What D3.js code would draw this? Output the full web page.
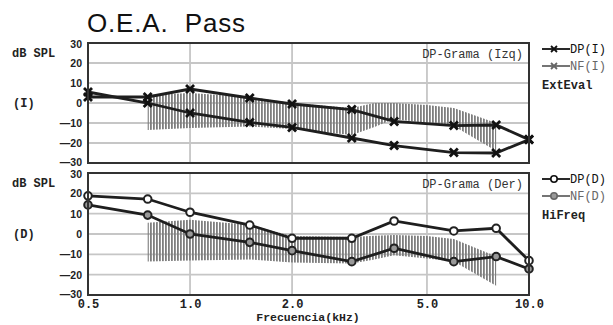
<!DOCTYPE html>
<html>
<head>
<meta charset="utf-8">
<script src="https://cdn.jsdelivr.net/npm/d3@7"></script>
<style>
  body { margin: 0; background: #fff; }
  svg { display: block; }
</style>
</head>
<body>
<svg id="chart" width="613" height="325"></svg>
<script>
// frequencies (kHz) of the DP-gram points
const freqs = [0.5, 0.75, 1, 1.5, 2, 3, 4, 6, 8, 10];

// left ear (Izq)
const dpLeft = [3, 3, 7, 2.5, -0.5, -3.3, -9.2, -11.3, -11, -18.3];
const nfLeft = [5.5, 0, -5, -9.7, -12.2, -17.5, -21.3, -24.8, -25, -18.3];

// right ear (Der)
const dpRight = [18.8, 17.2, 10.7, 4.4, -2.1, -2.1, 6.4, 1.5, 2.8, -13.1];
const nfRight = [14.3, 9.3, 0, -4.1, -8.2, -13.6, -7, -13.6, -11.1, -17.2];

// hatched normative band
const bandFreqs = [0.75, 1, 1.5, 2, 3, 3.5, 4, 5, 6, 8];
const bandHiLeft = [4, 5, 3, 0, -2.5, 0, 0, -1, -2.5, -10];
const bandLoLeft = [-13.5, -12.5, -11.7, -13, -16, -12, -8, -10, -11.5, -24];
const bandHiRight = [5.5, 7, 4.5, -1, -1.5, -0.8, -0.5, -1, -2.5, -11];
const bandLoRight = [-13.5, -13, -12.5, -14, -14.5, -12.5, -10.5, -12, -13.5, -25.5];

const yTicks = [30, 20, 10, 0, -10, -20, -30];
const xTicks = [0.5, 1, 2, 5, 10];

const svg = d3.select("#chart");
const mono = "'Liberation Mono', 'DejaVu Sans Mono', monospace";
const sans = "'Liberation Sans', Arial, sans-serif";

const x = d3.scaleLog().domain([0.5, 10]).range([88, 529]);

// hatch pattern
svg.append("defs").append("pattern")
  .attr("id", "hatch")
  .attr("patternUnits", "userSpaceOnUse")
  .attr("width", 3).attr("height", 10)
  .append("rect")
  .attr("width", 1.8).attr("height", 10)
  .attr("fill", "#7e7e7e");

// title
svg.append("text")
  .attr("x", 87).attr("y", 32)
  .attr("font-family", sans)
  .attr("font-size", 26)
  .attr("fill", "#111")
  .attr("textLength", 158)
  .attr("lengthAdjust", "spacing")
  .style("white-space", "pre")
  .text("O.E.A.  Pass");

function panel(opts) {
  const y = d3.scaleLinear().domain([-30, 30]).range([opts.bottom, opts.top]);
  const g = svg.append("g");

  // grid
  g.selectAll(".hg").data(yTicks.slice(1, -1)).enter().append("line")
    .attr("x1", x.range()[0]).attr("x2", x.range()[1])
    .attr("y1", d => y(d)).attr("y2", d => y(d))
    .attr("stroke", "#c6c6c6").attr("stroke-width", 1.8);
  g.selectAll(".vg").data(xTicks.slice(1, -1)).enter().append("line")
    .attr("x1", d => x(d)).attr("x2", d => x(d))
    .attr("y1", opts.top).attr("y2", opts.bottom)
    .attr("stroke", "#c6c6c6").attr("stroke-width", 1.8);

  // band
  const area = d3.area()
    .x((d, i) => x(bandFreqs[i]))
    .y0(d => y(d[0]))
    .y1(d => y(d[1]));
  g.append("path")
    .datum(opts.bandLo.map((lo, i) => [lo, opts.bandHi[i]]))
    .attr("d", area)
    .attr("fill", "url(#hatch)");

  // lines
  const line = d3.line().x((d, i) => x(freqs[i])).y(d => y(d));
  [opts.nf, opts.dp].forEach(vals => {
    g.append("path").datum(vals)
      .attr("d", line)
      .attr("fill", "none")
      .attr("stroke", "#1e1e1e")
      .attr("stroke-width", 2.8);
  });

  // markers
  [[opts.nf, "#999"], [opts.dp, "#fff"]].forEach(([vals, fill]) => {
    const m = g.selectAll(null).data(vals).enter().append("g")
      .attr("transform", (d, i) => `translate(${x(freqs[i])},${y(d)})`);
    if (opts.marker === "x") {
      m.append("path").attr("d", "M-4,-4L4,4M-4,4L4,-4")
        .attr("stroke", "#111").attr("stroke-width", 2.8);
    } else {
      m.append("circle").attr("r", 3.8)
        .attr("fill", fill).attr("stroke", "#222").attr("stroke-width", 2);
    }
  });

  // frame
  g.append("rect")
    .attr("x", x.range()[0]).attr("y", opts.top)
    .attr("width", x.range()[1] - x.range()[0])
    .attr("height", opts.bottom - opts.top)
    .attr("fill", "none").attr("stroke", "#333").attr("stroke-width", 2);

  // y axis
  const ax = g.append("g")
    .attr("transform", `translate(${x.range()[0]},0)`)
    .call(d3.axisLeft(y).tickValues(yTicks).tickSize(0).tickPadding(6)
      .tickFormat(d => d < 0 ? "\u2014" + Math.abs(d) : d));
  ax.select(".domain").remove();
  ax.selectAll("text")
    .attr("font-family", sans).attr("font-weight", "bold")
    .attr("font-size", 10.5).attr("fill", "#222")
    .attr("dy", d => d === 30 ? "0.42em" : d === -30 ? "0.22em" : "0.32em");

  // side labels
  g.append("text").attr("x", 12).attr("y", opts.top + 14)
    .attr("font-family", mono).attr("font-weight", "bold")
    .attr("font-size", 12).attr("fill", "#222")
    .text("dB SPL");
  g.append("text").attr("x", 13).attr("y", y(0) + 4)
    .attr("font-family", mono).attr("font-weight", "bold")
    .attr("font-size", 12).attr("fill", "#222")
    .text(opts.ear);

  // panel caption
  g.append("text").attr("x", 523).attr("y", opts.top + 15)
    .attr("text-anchor", "end")
    .attr("font-family", mono).attr("font-size", 12).attr("fill", "#333")
    .text(opts.caption);

  // legend
  const lg = g.append("g");
  opts.legend.forEach((name, i) => {
    const ly = opts.top + 6 + i * 17;
    const col = i === 0 ? "#111" : "#666";
    lg.append("line").attr("x1", 542).attr("x2", 570)
      .attr("y1", ly).attr("y2", ly)
      .attr("stroke", col).attr("stroke-width", 1.8);
    if (opts.marker === "x") {
      lg.append("path").attr("d", `M${551},${ly - 3}L${557},${ly + 3}M${551},${ly + 3}L${557},${ly - 3}`)
        .attr("stroke", col).attr("stroke-width", 1.8);
    } else {
      lg.append("circle").attr("cx", 554).attr("cy", ly).attr("r", 3.2)
        .attr("fill", i === 0 ? "#fff" : "#999").attr("stroke", col).attr("stroke-width", 1.6);
    }
    lg.append("text").attr("x", 570).attr("y", ly + 4)
      .attr("font-family", mono).attr("font-size", 12).attr("fill", col)
      .text(name);
  });
  lg.append("text").attr("x", 542).attr("y", opts.top + 46)
    .attr("font-family", mono).attr("font-weight", "bold")
    .attr("font-size", 12).attr("fill", "#222")
    .text(opts.mode);

  return y;
}

panel({
  top: 43, bottom: 163, ear: "(I)", caption: "DP-Grama (Izq)",
  dp: dpLeft, nf: nfLeft, bandHi: bandHiLeft, bandLo: bandLoLeft,
  marker: "x", legend: ["DP(I)", "NF(I)"], mode: "ExtEval"
});
panel({
  top: 173, bottom: 295, ear: "(D)", caption: "DP-Grama (Der)",
  dp: dpRight, nf: nfRight, bandHi: bandHiRight, bandLo: bandLoRight,
  marker: "o", legend: ["DP(D)", "NF(D)"], mode: "HiFreq"
});

// x axis
const xa = svg.append("g")
  .attr("transform", "translate(0,295)")
  .call(d3.axisBottom(x).tickValues(xTicks).tickSize(0).tickPadding(4)
    .tickFormat(d3.format(".1f")));
xa.select(".domain").remove();
xa.selectAll("text")
  .attr("font-family", mono).attr("font-weight", "bold")
  .attr("font-size", 12).attr("fill", "#222");

svg.append("text")
  .attr("x", 308).attr("y", 320.5)
  .attr("text-anchor", "middle")
  .attr("font-family", mono).attr("font-weight", "bold")
  .attr("font-size", 11.5).attr("fill", "#222")
  .text("Frecuencia(kHz)");
</script>
</body>
</html>
